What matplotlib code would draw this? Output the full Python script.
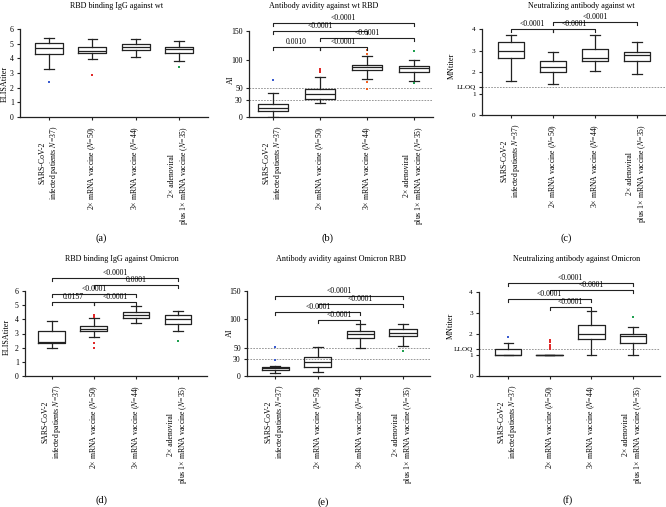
import matplotlib
matplotlib.use("Agg")
from matplotlib import pyplot as plt
from matplotlib import transforms

plt.rcParams["font.family"] = ["Liberation Serif", "DejaVu Serif"]
plt.rcParams["mathtext.fontset"] = "stix"

W, H = 666, 507

groups = [
    "SARS-CoV-2\ninfected patients $N$=37)",
    "2× mRNA vaccine ($N$=50)",
    "3× mRNA vaccine ($N$=44)",
    "2× adenoviral\nplus 1× mRNA vaccine ($N$=35)",
]
point_colors = ["#3a5bd0", "#e02a2a", "#f06020", "#1fa050"]

# (a) RBD binding IgG against wt
a_lo = [3.24, 3.93, 4.06, 3.81]
a_q1 = [4.29, 4.38, 4.57, 4.38]
a_med = [4.73, 4.52, 4.79, 4.63]
a_q3 = [5.02, 4.79, 4.95, 4.79]
a_hi = [5.36, 5.32, 5.30, 5.18]
a_out = [[2.40], [2.85], [], [3.42]]

# (b) Antibody avidity against wt RBD
b_lo = [0.0, 24.4, 66.9, 62.8]
b_q1 = [10.5, 32.0, 81.4, 78.5]
b_med = [16.3, 40.7, 87.2, 85.5]
b_q3 = [22.0, 49.4, 91.3, 88.4]
b_hi = [41.9, 69.8, 105.8, 100.0]
b_out = [[64.0], [79.0, 81.0, 83.0], [116.0, 110.5, 61.0, 49.5], [115.0, 59.3]]
b_brackets = [(1, 4, 164, "<0.0001"), (1, 3, 150, "<0.0001"), (2, 4, 138, "<0.0001"),
              (1, 2, 122, "0.0010"), (2, 3, 122, "<0.0001")]

# (c) Neutralizing antibody against wt
c_lo = [1.60, 1.45, 2.05, 1.90]
c_q1 = [2.65, 2.02, 2.52, 2.52]
c_med = [2.96, 2.21, 2.65, 2.80]
c_q3 = [3.38, 2.49, 3.07, 2.93]
c_hi = [3.74, 2.94, 3.74, 3.39]
c_out = [[], [], [], []]
c_brackets = [(2, 4, 4.31, "<0.0001"), (1, 2, 3.98, "<0.0001"), (2, 3, 3.98, "<0.0001")]

# (d) RBD binding IgG against Omicron
d_lo = [1.95, 2.72, 3.77, 3.16]
d_q1 = [2.35, 3.16, 4.12, 3.70]
d_med = [2.40, 3.35, 4.29, 4.01]
d_q3 = [3.19, 3.52, 4.52, 4.34]
d_hi = [3.89, 4.10, 4.95, 4.59]
d_out = [[], [4.29, 4.17, 2.30, 1.97], [], [2.48]]
d_brackets = [(1, 4, 6.91, "<0.0001"), (2, 4, 6.40, "0.0001"), (1, 3, 5.81, "<0.0001"),
              (1, 2, 5.23, "0.0157"), (2, 3, 5.23, "<0.0001")]

# (e) Antibody avidity against Omicron RBD
e_lo = [5.9, 7.6, 49.8, 53.3]
e_q1 = [10.5, 16.4, 66.2, 70.3]
e_med = [13.5, 25.2, 73.8, 76.2]
e_q3 = [16.4, 34.0, 79.7, 83.8]
e_hi = [17.6, 50.4, 91.4, 91.4]
e_out = [[51.6, 28.1], [], [], [44.5]]
e_brackets = [(1, 4, 142, "<0.0001"), (2, 4, 127, "<0.0001"), (1, 3, 113, "<0.0001"),
              (2, 3, 98.5, "<0.0001")]

# (f) Neutralizing antibody against Omicron
f_lo = [1.0, 1.0, 1.0, 1.0]
f_q1 = [1.0, 1.0, 1.75, 1.55]
f_med = [1.0, 1.0, 2.02, 1.90]
f_q3 = [1.28, 1.0, 2.42, 2.02]
f_hi = [1.58, 1.0, 3.10, 2.34]
f_out = [[1.87], [1.28, 1.39, 1.50, 1.61, 1.72], [], [2.81]]
f_brackets = [(1, 4, 4.44, "<0.0001"), (2, 4, 4.08, "<0.0001"), (1, 3, 3.68, "<0.0001"),
              (2, 3, 3.29, "<0.0001")]

lloq = 1.3

panels = [
    dict(title="RBD binding IgG against wt", ylabel="ELISAtiter", letter="(a)",
         stats=(a_lo, a_q1, a_med, a_q3, a_hi, a_out), brackets=[],
         yticks=[0, 1, 2, 3, 4, 5, 6], ymax=6, dashed=[], lloq=False,
         box=(20, 208, 117, 29), xlim=(0.33, 4.67),
         title_xy=(117, 6), ylabel_xy=(5, 84), letter_xy=(101, 238)),
    dict(title="Antibody avidity against wt RBD", ylabel="AI", letter="(b)",
         stats=(b_lo, b_q1, b_med, b_q3, b_hi, b_out), brackets=b_brackets,
         yticks=[0, 30, 50, 100, 150], ymax=150, dashed=[30, 50], lloq=False,
         box=(249, 433, 117, 31), xlim=(0.49, 4.40),
         title_xy=(324, 6), ylabel_xy=(231, 80), letter_xy=(327, 238)),
    dict(title="Neutralizing antibody against wt", ylabel="MNtiter", letter="(c)",
         stats=(c_lo, c_q1, c_med, c_q3, c_hi, c_out), brackets=c_brackets,
         yticks=[0, 1, 2, 3, 4], ymax=4, dashed=[lloq], lloq=True,
         box=(482, 666, 115, 29), xlim=(0.31, 4.69),
         title_xy=(581, 6), ylabel_xy=(452, 66), letter_xy=(566, 238)),
    dict(title="RBD binding IgG against Omicron", ylabel="ELISAtiter", letter="(d)",
         stats=(d_lo, d_q1, d_med, d_q3, d_hi, d_out), brackets=d_brackets,
         yticks=[0, 1, 2, 3, 4, 5, 6], ymax=6, dashed=[], lloq=False,
         box=(25, 207, 376, 291), xlim=(0.36, 4.69),
         title_xy=(122, 259), ylabel_xy=(7, 337), letter_xy=(102, 500)),
    dict(title="Antibody avidity against Omicron RBD", ylabel="AI", letter="(e)",
         stats=(e_lo, e_q1, e_med, e_q3, e_hi, e_out), brackets=e_brackets,
         yticks=[0, 30, 50, 100, 150], ymax=150, dashed=[30, 50], lloq=False,
         box=(247, 430, 376, 291), xlim=(0.34, 4.63),
         title_xy=(341, 259), ylabel_xy=(230, 333), letter_xy=(323, 502)),
    dict(title="Neutralizing antibody against Omicron", ylabel="MNtiter", letter="(f)",
         stats=(f_lo, f_q1, f_med, f_q3, f_hi, f_out), brackets=f_brackets,
         yticks=[0, 1, 2, 3, 4], ymax=4, dashed=[lloq], lloq=True,
         box=(479, 660, 376, 292), xlim=(0.30, 4.65),
         title_xy=(577, 259), ylabel_xy=(451, 326), letter_xy=(568, 500)),
]

fig = plt.figure(figsize=(W / 100, H / 100), dpi=100)
fs = 5.6

for p in panels:
    left, right, y0, ytop = p["box"]
    ax = fig.add_axes([left / W, 1 - y0 / H, (right - left) / W, (y0 - ytop) / H])
    lo, q1, med, q3, hi, out = p["stats"]
    bstats = []
    for i in range(4):
        bstats.append(dict(whislo=lo[i], q1=q1[i], med=med[i], q3=q3[i],
                           whishi=hi[i], fliers=[]))
    ax.bxp(bstats, positions=[1, 2, 3, 4], widths=0.64, capwidths=0.22,
           showfliers=False,
           boxprops=dict(color="#222222", linewidth=0.9),
           medianprops=dict(color="#222222", linewidth=0.9),
           whiskerprops=dict(color="#222222", linewidth=0.9),
           capprops=dict(color="#222222", linewidth=0.9))
    for i in range(4):
        if out[i]:
            ax.plot([i + 1] * len(out[i]), out[i], "s", color=point_colors[i],
                    markersize=1.8, markeredgewidth=0, clip_on=False)

    for yv in p["dashed"]:
        ax.axhline(yv, color="#888888", linestyle=(0, (2, 1.5)), linewidth=0.6, zorder=0)

    ymax = p["ymax"]
    ax.set_ylim(0, ymax)
    ax.set_xlim(*p["xlim"])
    ticks = list(p["yticks"])
    labels = [str(t) for t in ticks]
    if p["lloq"]:
        ticks.append(lloq)
        labels.append("LLOQ")
    ax.set_yticks(ticks)
    ax.set_yticklabels(labels, fontsize=fs - 0.4 if p["lloq"] else fs)
    if p["lloq"]:
        for lab in ax.get_yticklabels():
            if lab.get_text() == "LLOQ":
                lab.set_transform(lab.get_transform() +
                                  transforms.ScaledTranslation(0, 1.2 / 72, fig.dpi_scale_trans))
            elif lab.get_text() == "1":
                lab.set_transform(lab.get_transform() +
                                  transforms.ScaledTranslation(0, -0.8 / 72, fig.dpi_scale_trans))
    ax.set_xticks([1, 2, 3, 4])
    ax.set_xticklabels(groups, rotation=90, fontsize=fs, va="top", ha="center",
                       multialignment="center")
    ax.tick_params(axis="both", length=2.5, width=0.8, pad=2, color="#222222")
    ax.tick_params(axis="x", pad=4)
    for side in ["top", "right"]:
        ax.spines[side].set_visible(False)
    for side in ["left", "bottom"]:
        ax.spines[side].set_linewidth(0.9)
        ax.spines[side].set_color("#222222")

    drop = ymax * 0.035
    for g1, g2, yb, txt in p["brackets"]:
        ax.plot([g1, g1, g2, g2], [yb - drop, yb, yb, yb - drop], color="#222222",
                linewidth=0.8, clip_on=False)
        ax.text((g1 + g2) / 2, yb + ymax * 0.012, txt, ha="center", va="bottom",
                fontsize=fs, clip_on=False)

    tx, ty = p["title_xy"]
    fig.text(tx / W, 1 - ty / H, p["title"], ha="center", va="center", fontsize=fs + 0.3)
    lx_, ly_ = p["ylabel_xy"]
    fig.text(lx_ / W, 1 - ly_ / H, p["ylabel"], rotation=90,
             ha="center", va="center", fontsize=fs + 0.3)
    lx, ly = p["letter_xy"]
    fig.text(lx / W, 1 - ly / H, p["letter"], ha="center", va="center", fontsize=7.5)

fig.savefig("out.png", dpi=100)
